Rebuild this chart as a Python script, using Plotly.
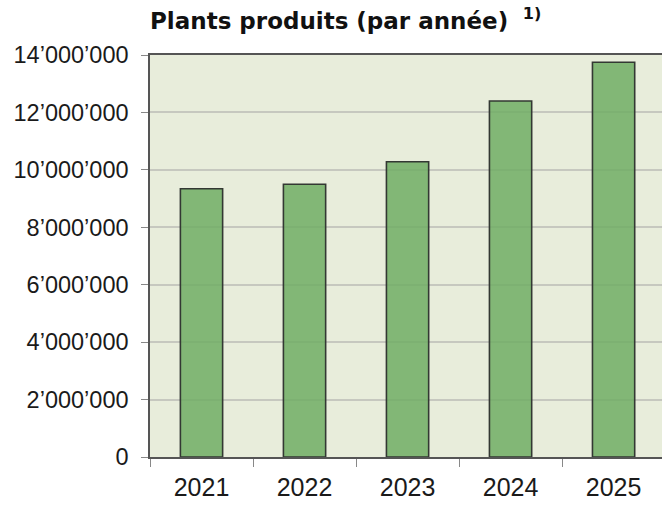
import plotly.graph_objects as go

years = ["2021", "2022", "2023", "2024", "2025"]
plants = [9340000, 9500000, 10280000, 12400000, 13750000]
y_tick_vals = [0, 2000000, 4000000, 6000000, 8000000, 10000000, 12000000, 14000000]
y_tick_text = ["0", "2’000’000", "4’000’000", "6’000’000", "8’000’000",
               "10’000’000", "12’000’000", "14’000’000"]
title_text = "<b>Plants produits (par année)</b>  <b><sup>1)</sup></b>"

fig = go.Figure(go.Bar(
    x=years, y=plants,
    width=0.41,
    marker=dict(color="rgba(113,173,101,0.86)",
                line=dict(color="#333833", width=1.6)),
))

fig.update_layout(
    width=662, height=505,
    margin=dict(l=150, r=0, t=55, b=48, autoexpand=False),
    paper_bgcolor="white",
    plot_bgcolor="#e8eddb",
    showlegend=False,
    title=dict(text=title_text, x=0, xref="paper", xanchor="left",
               y=1 - 21 / 505, yref="container", yanchor="middle",
               automargin=False,
               font=dict(family="DejaVu Sans", size=23, color="#111")),
    font=dict(family="Liberation Sans, Arial", color="#1a1a1a"),
)
fig.update_xaxes(
    type="category", range=[-0.5, 4.47], automargin=False,
    showline=True, linecolor="#555", linewidth=1.5, mirror=True,
    ticks="outside", tickson="boundaries", ticklen=8, tickcolor="#888", tickwidth=1.2,
    tickfont=dict(size=25), ticklabelstandoff=7, showgrid=False,
)
fig.update_yaxes(
    range=[0, 14000000], tickvals=y_tick_vals, ticktext=y_tick_text, automargin=False,
    showline=True, linecolor="#555", linewidth=1.5,
    ticks="outside", ticklen=7, tickcolor="#888", tickwidth=1.2,
    tickfont=dict(size=23.5), ticklabelstandoff=8,
    showgrid=True, gridcolor="#c6c8bf", gridwidth=1.5, zeroline=False,
)

fig.write_html("out.html", config={"displayModeBar": False},
               post_script="document.body.style.margin='0px';document.body.style.overflow='hidden';")
